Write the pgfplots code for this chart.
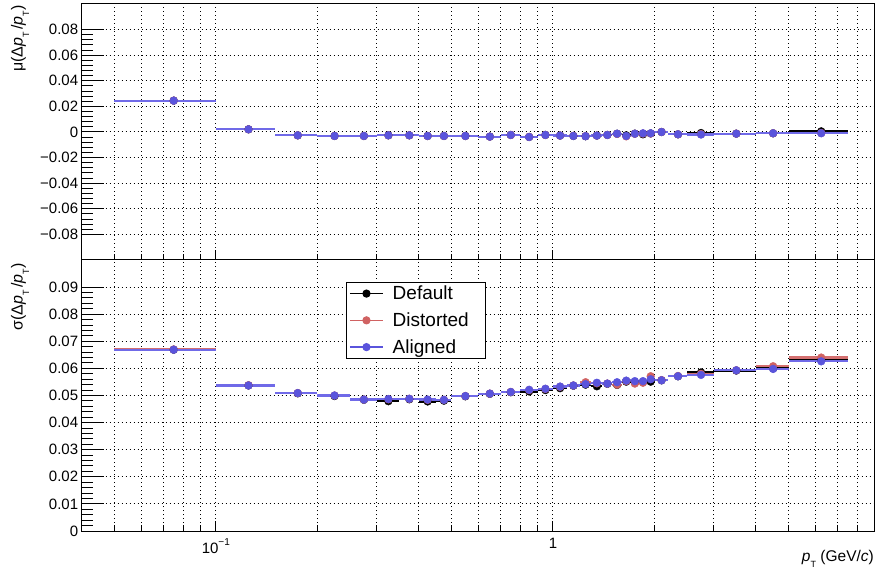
\documentclass[border=0pt]{standalone}
\usepackage{fontspec}
\setmainfont{Liberation Sans}
\usepackage{pgfplots}
\usepackage{pgfplotstable}
\pgfplotsset{compat=1.18}
\definecolor{dist}{RGB}{208,98,98}
\definecolor{alig}{RGB}{90,84,220}
\definecolor{aligl}{RGB}{112,106,232}
\definecolor{distl}{RGB}{212,112,112}
\newcommand{\subT}[1]{\raisebox{-#1}{\fontsize{9}{9}\selectfont T}}

\pgfplotstableread{
x em ep muD muR muA sD sR sA
0.075 0.025 0.025 0.0245 0.0245 0.0245 0.0669 0.0670 0.0669
0.125 0.025 0.025 0.0021 0.0021 0.0021 0.0537 0.0538 0.0537
0.175 0.025 0.025 -0.0026 -0.0026 -0.0026 0.0508 0.0509 0.0509
0.225 0.025 0.025 -0.0031 -0.0031 -0.0031 0.0498 0.0500 0.0500
0.275 0.025 0.025 -0.0031 -0.0031 -0.0031 0.0484 0.0485 0.0485
0.325 0.025 0.025 -0.0026 -0.0026 -0.0026 0.0479 0.0486 0.0487
0.375 0.025 0.025 -0.0026 -0.0026 -0.0026 0.0486 0.0488 0.0488
0.425 0.025 0.025 -0.0031 -0.0031 -0.0031 0.0478 0.0484 0.0485
0.475 0.025 0.025 -0.0031 -0.0031 -0.0031 0.0481 0.0484 0.0484
0.55 0.05 0.05 -0.0031 -0.0031 -0.0031 0.0497 0.0498 0.0498
0.65 0.05 0.05 -0.0036 -0.0036 -0.0036 0.0506 0.0507 0.0507
0.75 0.05 0.05 -0.0023 -0.0023 -0.0023 0.0512 0.0513 0.0513
0.85 0.05 0.05 -0.0039 -0.0038 -0.0039 0.0515 0.0520 0.0521
0.95 0.05 0.05 -0.0023 -0.0023 -0.0023 0.0520 0.0524 0.0525
1.05 0.05 0.05 -0.0028 -0.0028 -0.0028 0.0527 0.0532 0.0533
1.15 0.05 0.05 -0.0031 -0.0030 -0.0031 0.0536 0.0537 0.0537
1.25 0.05 0.05 -0.0033 -0.0032 -0.0033 0.0540 0.0549 0.0542
1.35 0.05 0.05 -0.0028 -0.0028 -0.0028 0.0534 0.0545 0.0547
1.45 0.05 0.05 -0.0023 -0.0023 -0.0023 0.0543 0.0544 0.0544
1.55 0.05 0.05 -0.0014 -0.0015 -0.0013 0.0539 0.0540 0.0549
1.65 0.05 0.05 -0.0026 -0.0034 -0.0031 0.0551 0.0553 0.0555
1.75 0.05 0.05 -0.0013 -0.0014 -0.0013 0.0550 0.0544 0.0553
1.85 0.05 0.05 -0.0018 -0.0012 -0.0010 0.0550 0.0547 0.0553
1.95 0.05 0.05 -0.0011 -0.0012 -0.0010 0.0551 0.0571 0.0560
2.1 0.1 0.1 0.0000 0.0000 0.0000 0.0556 0.0557 0.0556
2.35 0.15 0.15 -0.0018 -0.0018 -0.0018 0.0571 0.0572 0.0571
2.75 0.25 0.25 -0.0008 -0.0016 -0.0020 0.0585 0.0580 0.0576
3.5 0.5 0.5 -0.0013 -0.0013 -0.0013 0.0592 0.0593 0.0593
4.5 0.5 0.5 -0.0010 -0.0010 -0.0010 0.0600 0.0608 0.0598
6.25 1.25 1.25 0.0005 -0.0008 -0.0010 0.0632 0.0640 0.0626
}\data

\begin{document}
\begin{tikzpicture}
% ---------- top panel ----------
\begin{axis}[scale only axis, width=792.9pt, height=256pt,
  at={(81.7pt,311pt)}, anchor=south west,
  xmode=log, xmin=0.04, xmax=9, ymin=-0.1, ymax=0.1,
  axis line style={line width=1pt},
  tick align=inside, tick pos=left,
  major tick length=10pt, minor tick length=6pt,
  tick style={black, line width=1pt},
  xmajorgrids=true, xminorgrids=true, ymajorgrids=true,
  major grid style={black, line width=1pt, dash pattern=on 1pt off 3pt},
  minor grid style={black, line width=1pt, dash pattern=on 1pt off 3pt},
  tick label style={font=\fontsize{15}{15}\selectfont},
  minor y tick num=4,
  ytick={-0.08,-0.06,-0.04,-0.02,0,0.02,0.04,0.06,0.08},
  yticklabels={−0.08,−0.06,−0.04,−0.02,0,0.02,0.04,0.06,0.08},
  xtick={0.1,1}, xticklabels={},
  minor xtick={0.05,0.06,0.07,0.08,0.09,0.2,0.3,0.4,0.5,0.6,0.7,0.8,0.9,2,3,4,5,6,7,8}]
\addplot[only marks, mark=*, mark size=3.9pt, color=black, forget plot,
  error bars/.cd, x dir=both, x explicit, error mark=none,
  error bar style={line width=2.2pt, black}]
  table[x=x,y=muD,x error minus=em,x error plus=ep]{\data};
\addplot[only marks, mark=*, mark size=3.9pt, color=dist, forget plot,
  error bars/.cd, x dir=both, x explicit, error mark=none,
  error bar style={line width=2.2pt, distl}]
  table[x=x,y=muR,x error minus=em,x error plus=ep]{\data};
\addplot[only marks, mark=*, mark size=3.9pt, color=alig, forget plot,
  error bars/.cd, x dir=both, x explicit, error mark=none,
  error bar style={line width=2.2pt, aligl}]
  table[x=x,y=muA,x error minus=em,x error plus=ep]{\data};
\end{axis}
\begin{axis}[scale only axis, width=792.9pt, height=256pt,
  at={(81.7pt,311pt)}, anchor=south west,
  xmin=0, xmax=1, xtick=\empty, ymin=-0.1, ymax=0.1,
  axis line style={draw=none},
  tick align=inside, tick pos=left,
  major tick length=22pt, minor tick length=11pt,
  tick style={black, line width=1pt},
  yticklabels={}, minor y tick num=4,
  ytick={-0.08,-0.06,-0.04,-0.02,0,0.02,0.04,0.06,0.08}]
\end{axis}
% ---------- bottom panel ----------
\begin{axis}[scale only axis, width=792.9pt, height=271pt,
  at={(81.7pt,40pt)}, anchor=south west,
  xmode=log, xmin=0.04, xmax=9, ymin=0, ymax=0.1,
  axis line style={line width=1pt},
  tick align=inside, tick pos=left,
  major tick length=10pt, minor tick length=6pt,
  tick style={black, line width=1pt},
  xmajorgrids=true, xminorgrids=true, ymajorgrids=true,
  major grid style={black, line width=1pt, dash pattern=on 1pt off 3pt},
  minor grid style={black, line width=1pt, dash pattern=on 1pt off 3pt},
  tick label style={font=\fontsize{15}{15}\selectfont},
  minor y tick num=4,
  ytick={0,0.01,0.02,0.03,0.04,0.05,0.06,0.07,0.08,0.09},
  yticklabels={0,0.01,0.02,0.03,0.04,0.05,0.06,0.07,0.08,0.09},
  xtick={0.1,1},
  minor xtick={0.05,0.06,0.07,0.08,0.09,0.2,0.3,0.4,0.5,0.6,0.7,0.8,0.9,2,3,4,5,6,7,8},
  xticklabels={10\raisebox{0.55em}{\fontsize{10}{10}\selectfont −1},1},
  xticklabel style={yshift=-4pt},
  legend style={at={(0.333,0.919)}, anchor=north west, draw=black, line width=1pt,
    font=\fontsize{19}{19}\selectfont, fill=white, inner xsep=3pt, inner ysep=1.5pt,
    row sep=7.5pt, cells={anchor=west},
    /tikz/every odd column/.append style={column sep=7pt}},
  legend image code/.code={\draw[#1,line width=1.5pt](0pt,0pt)--(33pt,0pt);
    \fill[#1](16.5pt,0pt) circle (3.6pt);}]
\addplot[only marks, mark=*, mark size=3.9pt, color=black, forget plot,
  error bars/.cd, x dir=both, x explicit, error mark=none,
  error bar style={line width=2.2pt, black}]
  table[x=x,y=sD,x error minus=em,x error plus=ep]{\data};
\addplot[only marks, mark=*, mark size=3.9pt, color=dist, forget plot,
  error bars/.cd, x dir=both, x explicit, error mark=none,
  error bar style={line width=2.2pt, distl}]
  table[x=x,y=sR,x error minus=em,x error plus=ep]{\data};
\addplot[only marks, mark=*, mark size=3.9pt, color=alig, forget plot,
  error bars/.cd, x dir=both, x explicit, error mark=none,
  error bar style={line width=2.2pt, aligl}]
  table[x=x,y=sA,x error minus=em,x error plus=ep]{\data};
\addlegendimage{black}\addlegendentry{\makebox[88pt][l]{Default}}
\addlegendimage{dist}\addlegendentry{\makebox[88pt][l]{Distorted}}
\addlegendimage{alig}\addlegendentry{\makebox[88pt][l]{Aligned}}
\end{axis}
\begin{axis}[scale only axis, width=792.9pt, height=271pt,
  at={(81.7pt,40pt)}, anchor=south west,
  xmin=0, xmax=1, xtick=\empty, ymin=0, ymax=0.1,
  axis line style={draw=none},
  tick align=inside, tick pos=left,
  major tick length=22pt, minor tick length=11pt,
  tick style={black, line width=1pt},
  yticklabels={}, minor y tick num=4,
  ytick={0,0.01,0.02,0.03,0.04,0.05,0.06,0.07,0.08,0.09}]
\end{axis}
% ---------- titles ----------
\node[rotate=90, anchor=east, font=\fontsize{16}{16}\selectfont] at (20pt,569pt)
  {μ(Δ\textit{p}\subT{6.5pt}\,/\textit{p}\subT{6.5pt})};
\node[rotate=90, anchor=east, font=\fontsize{16}{16}\selectfont] at (20pt,311pt)
  {σ(Δ\textit{p}\subT{6.5pt}\,/\textit{p}\subT{6.5pt})};
\node[anchor=base east, font=\fontsize{15.5}{15.5}\selectfont, inner sep=0pt] at (874pt,10pt)
  {\textit{p}\subT{6.5pt} (GeV/\textit{c})};
\pgfresetboundingbox
\useasboundingbox (0pt,0pt) rectangle (876pt,571pt);
\end{tikzpicture}
\end{document}
